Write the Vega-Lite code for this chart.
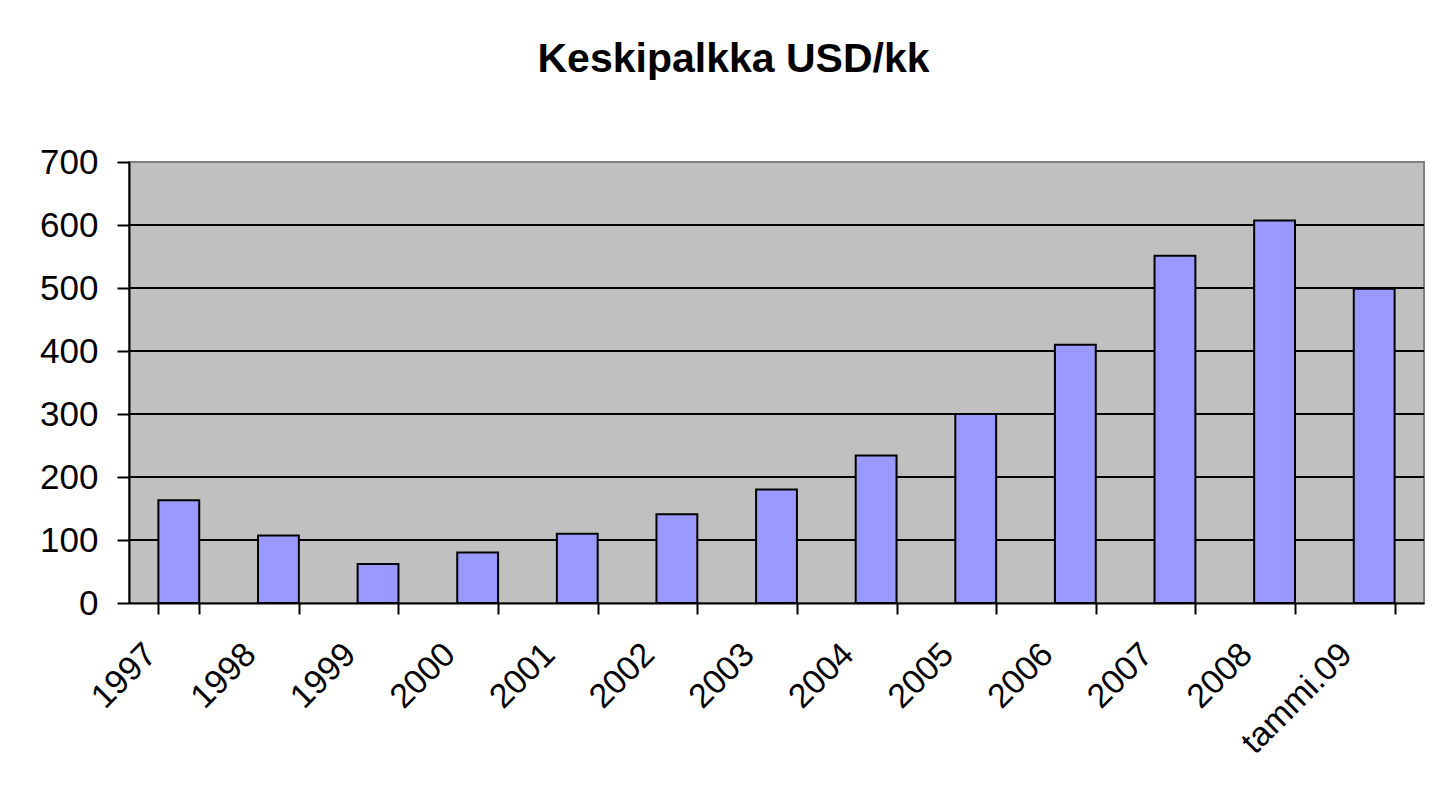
{
  "$schema": "https://vega.github.io/schema/vega-lite/v6.json",
  "width": 1295,
  "height": 441,
  "autosize": {"type": "none"},
  "padding": {"left": 129, "top": 162, "right": 13, "bottom": 186},
  "background": "white",
  "title": {
    "text": "Keskipalkka USD/kk",
    "font": "Liberation Sans",
    "fontSize": 41,
    "fontWeight": "bold",
    "color": "black",
    "anchor": "middle",
    "dx": -43,
    "offset": 64
  },
  "layer": [
    {
      "data": {
        "values": [
          {"g": 100}, {"g": 200}, {"g": 300}, {"g": 400}, {"g": 500}, {"g": 600}
        ]
      },
      "mark": {"type": "rule", "color": "black", "strokeWidth": 2},
      "encoding": {
        "y": {"field": "g", "type": "quantitative", "scale": {"domain": [0, 700], "nice": false}}
      }
    },
    {
      "data": {
        "values": [
          {"period": "1997", "salary": 163},
          {"period": "1998", "salary": 107},
          {"period": "1999", "salary": 62},
          {"period": "2000", "salary": 80},
          {"period": "2001", "salary": 110},
          {"period": "2002", "salary": 141},
          {"period": "2003", "salary": 180},
          {"period": "2004", "salary": 234},
          {"period": "2005", "salary": 300},
          {"period": "2006", "salary": 410},
          {"period": "2007", "salary": 551},
          {"period": "2008", "salary": 607},
          {"period": "tammi.09", "salary": 499}
        ]
      },
      "mark": {"type": "bar", "fill": "#9999FF", "stroke": "black", "strokeWidth": 2},
      "encoding": {
        "x": {
          "field": "period",
          "type": "nominal",
          "sort": null,
          "scale": {"paddingInner": 0.59, "paddingOuter": 0.295},
          "axis": {
            "title": null,
            "tickBand": "extent",
            "domainColor": "black",
            "domainWidth": 2,
            "tickColor": "black",
            "tickWidth": 2,
            "tickSize": 11,
            "labelAngle": -45,
            "labelAlign": "right",
            "labelBaseline": "middle",
            "labelFont": "Liberation Sans",
            "labelFontSize": 34,
            "labelColor": "black",
            "labelOffset": -28,
            "labelPadding": 35
          }
        },
        "y": {
          "field": "salary",
          "type": "quantitative",
          "scale": {"domain": [0, 700], "nice": false},
          "axis": {
            "title": null,
            "values": [0, 100, 200, 300, 400, 500, 600, 700],
            "domainColor": "black",
            "domainWidth": 2,
            "tickColor": "black",
            "tickWidth": 2,
            "tickSize": 12,
            "grid": false,
            "labelFont": "Liberation Sans",
            "labelFontSize": 35,
            "labelColor": "black",
            "labelPadding": 19
          }
        }
      }
    }
  ],
  "config": {
    "view": {"fill": "#C0C0C0", "stroke": "#808080", "strokeWidth": 2}
  }
}
